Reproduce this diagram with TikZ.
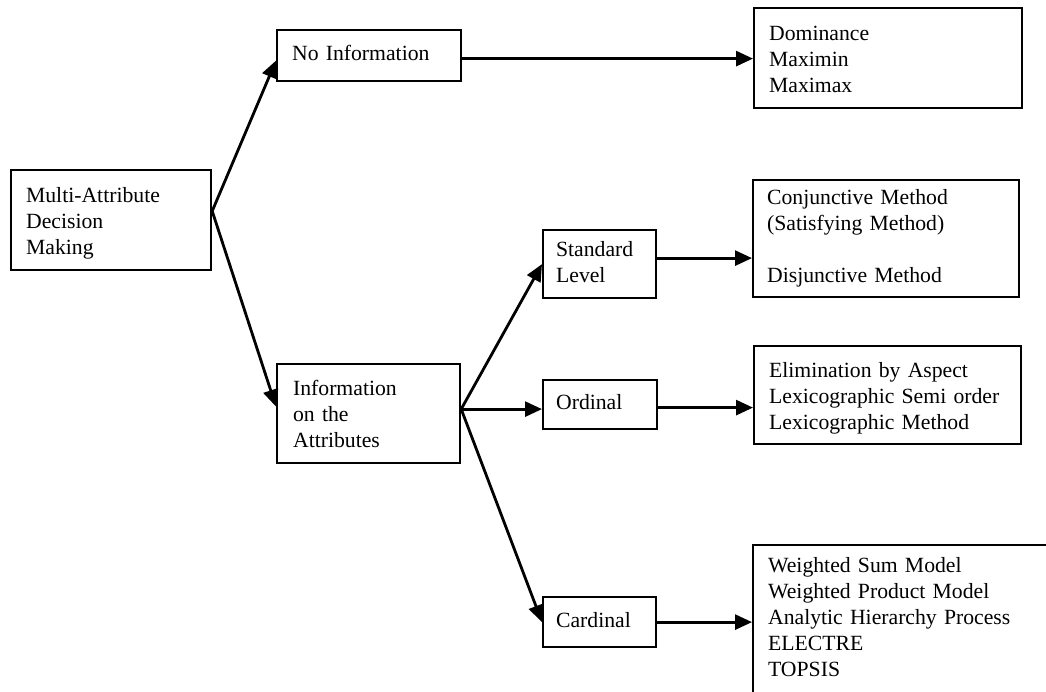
\documentclass[tikz,border=0pt]{standalone}
\usepackage{fontspec}
\setmainfont{Liberation Serif}
\usetikzlibrary{arrows.meta}
\begin{document}
\begin{tikzpicture}[x=1pt,y=-1pt,
  box/.style={draw, line width=2.2pt, rectangle, anchor=north west, align=left,
    inner ysep=2pt, font=\fontsize{21.7}{26}\selectfont,
    execute at begin node=\strut, execute at end node=\strut},
  lowtext/.style={execute at begin node={\rule{0pt}{24.5pt}}},
  link/.style={line width=2.8pt, -{Triangle[length=17pt,width=15pt]}}]
\useasboundingbox (0,0) rectangle (1046,691);
\clip (0,0) rectangle (1046,691);

% root and first split
\node[box, lowtext, minimum width=200pt, minimum height=100pt, inner xsep=15pt, text width=170pt]
  (madm) at (10,169) {Multi-Attribute\\Decision\\Making};
\node[box, minimum width=184pt, minimum height=51pt, inner xsep=15pt, text width=154pt]
  (noinfo) at (276,29) {No Information};
\node[box, lowtext, minimum width=183pt, minimum height=99pt, inner xsep=16pt, text width=151pt]
  (info) at (276,363) {Information\\on the\\Attributes};

% kinds of attribute information
\node[box, minimum width=113pt, minimum height=68pt, inner xsep=13pt, text width=87pt]
  (std) at (542,229) {Standard\\Level};
\node[box, minimum width=114pt, minimum height=49pt, inner xsep=13pt, text width=88pt]
  (ord) at (542,379) {Ordinal};
\node[box, minimum width=113pt, minimum height=50pt, inner xsep=13pt, text width=87pt]
  (card) at (542,596) {Cardinal};

% methods
\node[box, lowtext, minimum width=268pt, minimum height=100pt, inner xsep=15pt, text width=238pt]
  (dom) at (753,7) {Dominance\\Maximin\\Maximax};
\node[box, minimum width=266pt, minimum height=117pt, inner xsep=14pt, text width=238pt]
  (conj) at (752,179) {Conjunctive Method\\(Satisfying Method)\\[26pt]Disjunctive Method};
\node[box, lowtext, minimum width=267pt, minimum height=98pt, inner xsep=15pt, text width=237pt]
  (elim) at (753,345) {Elimination by Aspect\\Lexicographic Semi order\\Lexicographic Method};
\node[box, minimum width=320pt, minimum height=148pt, inner xsep=15pt, text width=290pt]
  (cres) at (752,544) {Weighted Sum Model\\Weighted Product Model\\Analytic Hierarchy Process\\ELECTRE\\TOPSIS};

% connectors
\coordinate (f1) at ([yshift=9pt]madm.east);
\draw[link] (f1) -- ([yshift=-5pt]noinfo.west);
\draw[link] (f1) -- ([yshift=7pt]info.west);
\draw[link] ([yshift=-3pt]noinfo.east) -- ([yshift=-3pt]noinfo.east -| dom.west);

\coordinate (f2) at ([yshift=4.5pt]info.east);
\draw[link] (f2) -- (std.west);
\draw[link] (f2) -- (f2 -| ord.west);
\draw[link] (f2) -- (card.west);

\draw[link] ([yshift=6pt]std.east) -- ([yshift=6pt]std.east -| conj.west);
\draw[link] ([yshift=-3pt]ord.east) -- ([yshift=-3pt]ord.east -| elim.west);
\draw[link] (card.east) -- (card.east -| cres.west);
\end{tikzpicture}
\end{document}
